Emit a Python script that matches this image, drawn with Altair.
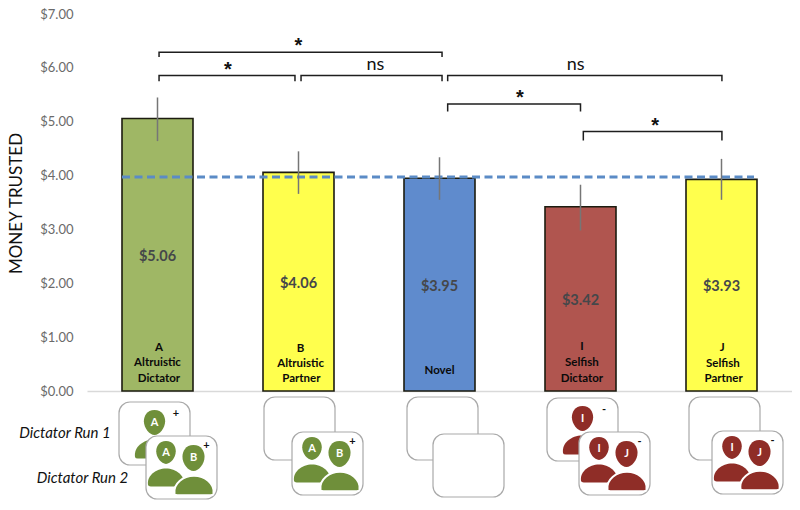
import altair as alt
import pandas as pd

# ---- values
positions = [1, 2, 3, 4, 5]
means = [5.06, 4.06, 3.95, 3.42, 3.93]
err_low = [4.64, 3.66, 3.55, 2.98, 3.55]
err_high = [5.45, 4.45, 4.34, 3.83, 4.31]
bar_colors = ["#9fb765", "#ffff4d", "#5f8bcd", "#b0554f", "#ffff4d"]
value_label_y = [2.485, 1.985, 1.935, 1.665, 1.935]
value_labels = ["$5.06", "$4.06", "$3.95", "$3.42", "$3.93"]
ref_level = 3.975

cat_lines = ["A", "Altruistic", "Dictator", "B", "Altruistic", "Partner", "Novel",
             "I", "Selfish", "Dictator", "J", "Selfish", "Partner"]
cat_pos = [1.01, 1.0, 1.01, 2.015, 2.015, 2.02, 3.0, 4.01, 4.01, 4.01, 5.005, 5.01, 5.015]
cat_y = [0.80, 0.52, 0.23, 0.78, 0.50, 0.23, 0.38, 0.81, 0.52, 0.23, 0.80, 0.51, 0.23]

# brackets: left, right, level, drop (in axis units) and their marks
br_left = [1.011, 1.011, 2.018, 3.058, 3.058, 4.02]
br_right = [3.018, 1.975, 3.018, 5.003, 4.0, 5.003]
br_level = [6.29, 5.86, 5.86, 5.86, 5.33, 4.82]
br_drop = [0.09, 0.11, 0.11, 0.11, 0.14, 0.17]
star_x = [2.0, 1.5, 3.57, 4.53]
star_y = [6.47, 6.02, 5.49, 4.97]
ns_x = [2.545, 3.965]
ns_y = [6.06, 6.06]

cards_run1 = [(119, 402), (264, 397), (407, 397), (547, 398), (689, 397)]
cards_run2 = [(146, 436), (292, 432), (433, 434), (579, 432), (712, 431)]
single_icons = {0: ("A", "+", "#6f8f3a"), 3: ("I", "-", "#8f2d27")}
double_icons = {0: ("A", "B", "+", "#6f8f3a"), 1: ("A", "B", "+", "#6f8f3a"),
                3: ("I", "J", "-", "#8f2d27"), 4: ("I", "J", "-", "#8f2d27")}

FONT = "Lato"
PX_LEFT, PX_BASE, BAND, UNIT = 87, 391, 141, 377 / 7


def ux(px):
    return 0.5 + (px - PX_LEFT) / BAND


def uy(py):
    return (PX_BASE - py) / UNIT


x_scale = alt.Scale(domain=[0.5, 5.5], nice=False, zero=False, padding=0)
y_scale = alt.Scale(domain=[0, 7], nice=False, padding=0)
x_axis = alt.Axis(title=None, labels=False, ticks=False, grid=False,
                  domain=True, domainColor="#d9d9d9", domainWidth=1.5)
y_axis = alt.Axis(title="MONEY TRUSTED", format="$.2f", values=[0, 1, 2, 3, 4, 5, 6, 7],
                  grid=False, domain=False, ticks=False,
                  labelFont=FONT, labelFontSize=13, labelColor="#6a6a6a", labelPadding=14,
                  titleFont=FONT, titleFontSize=17, titleFontWeight="normal", titleColor="#111111",
                  titleX=-62, titleY=189)
X = lambda f="x": alt.X(f"{f}:Q", scale=x_scale, axis=x_axis)
Y = lambda f="y": alt.Y(f"{f}:Q", scale=y_scale, axis=y_axis)

bars_df = pd.DataFrame({"x": positions, "mean": means, "low": err_low, "high": err_high,
                        "color": bar_colors, "vy": value_label_y, "vl": value_labels})

bars = alt.Chart(bars_df).mark_bar(size=71, stroke="#1c1c10", strokeWidth=1.6).encode(
    x=X(), y=Y("mean"), color=alt.Color("color:N", scale=None))

ref = alt.Chart(pd.DataFrame({"x": [ux(122)], "x2": [ux(754)], "y": [ref_level]})).mark_rule(
    color="#5b8bc6", strokeWidth=3, strokeDash=[8, 4.5]
).encode(x=X(), x2="x2:Q", y=Y())

errs = alt.Chart(bars_df).mark_rule(color="#767676", strokeWidth=1.5).encode(
    x=X(), y=Y("low"), y2="high:Q")

value_text = alt.Chart(bars_df).mark_text(font=FONT, fontSize=14.5, fontWeight="bold", color="#45474a").encode(
    x=X(), y=Y("vy"), text="vl:N")

cat_df = pd.DataFrame({"x": cat_pos, "y": cat_y, "t": cat_lines})
cat_text = alt.Chart(cat_df).mark_text(font=FONT, fontSize=11.5, fontWeight="bold", color="#0a0a0a").encode(
    x=X(), y=Y(), text="t:N")

br_rows = []
for i, (l, r, lv, d) in enumerate(zip(br_left, br_right, br_level, br_drop)):
    for k, (bx, by) in enumerate([(l, lv - d), (l, lv), (r, lv), (r, lv - d)]):
        br_rows.append({"x": bx, "y": by, "g": i, "k": k})
brackets = alt.Chart(pd.DataFrame(br_rows)).mark_line(color="#1e1e1e", strokeWidth=1.5).encode(
    x=X(), y=Y(), detail="g:N", order="k:Q")

stars = alt.Chart(pd.DataFrame({"x": star_x, "y": star_y, "t": ["*"] * len(star_x)})).mark_text(
    font="Liberation Sans", fontSize=20, fontWeight="bold", dy=3, color="#111111").encode(x=X(), y=Y(), text="t:N")
ns = alt.Chart(pd.DataFrame({"x": ns_x, "y": ns_y, "t": ["ns"] * len(ns_x)})).mark_text(
    font=FONT, fontSize=18, color="#111111").encode(x=X(), y=Y(), text="t:N")

run_df = pd.DataFrame({"x": [ux(65), ux(82.5)], "y": [uy(433), uy(478)],
                       "t": ["Dictator Run 1", "Dictator Run 2"]})
run_text = alt.Chart(run_df).mark_text(font=FONT, fontSize=15, fontStyle="italic", color="#111111").encode(
    x=X(), y=Y(), text="t:N")

HEAD = ("M0,-1 C0.62,-1 0.85,-0.5 0.85,-0.1 C0.85,0.45 0.4,1 0,1 "
        "C-0.4,1 -0.85,0.45 -0.85,-0.1 C-0.85,-0.5 -0.62,-1 0,-1 Z")
BODY = ("M-1,0.42 C-1.08,-0.1 -0.55,-0.5 0,-0.5 C0.55,-0.5 1.08,-0.1 1,0.42 "
        "Q0.98,0.5 0.85,0.5 L-0.85,0.5 Q-0.98,0.5 -1,0.42 Z")


def card_layer(cards):
    df = pd.DataFrame([{"x": ux(l), "x2": ux(l + 71), "y": uy(t), "y2": uy(t + 63)} for l, t in cards])
    return alt.Chart(df).mark_rect(fill="white", stroke="#a9a9a9", strokeWidth=1.2, cornerRadius=11).encode(
        x=X(), x2="x2:Q", y=Y(), y2="y2:Q")


def shape_layer(rows, path, **kw):
    df = pd.DataFrame(rows)
    return alt.Chart(df).mark_point(shape=path, filled=True, opacity=1, **kw).encode(
        x=X(), y=Y(), size=alt.Size("s:Q", scale=None, legend=None),
        color=alt.Color("c:N", scale=None))


def text_layer(rows, **kw):
    df = pd.DataFrame(rows)
    return alt.Chart(df).mark_text(font=FONT, fontWeight="bold", **kw).encode(
        x=X(), y=Y(), text="t:N")


r1_body, r1_head, r1_letters, r1_signs = [], [], [], []
for i, (name, sign, col) in single_icons.items():
    l, t = cards_run1[i]
    r1_body.append({"x": ux(l + 35), "y": uy(t + 47), "s": 38 ** 2, "c": col})
    r1_head.append({"x": ux(l + 35.5), "y": uy(t + 20.5), "s": 25 ** 2, "c": col})
    r1_letters.append({"x": ux(l + 35.5), "y": uy(t + 20.5), "t": name})
    r1_signs.append({"x": ux(l + 57), "y": uy(t + 12), "t": sign})

r2_bodyA, r2_bodyB, r2_head, r2_letters, r2_signs = [], [], [], [], []
for i, (a, b, sign, col) in double_icons.items():
    l, t = cards_run2[i]
    r2_bodyA.append({"x": ux(l + 20), "y": uy(t + 41.5), "s": 36 ** 2, "c": col})
    r2_bodyB.append({"x": ux(l + 48), "y": uy(t + 49.5), "s": 39 ** 2, "c": col})
    r2_head.append({"x": ux(l + 20), "y": uy(t + 16.5), "s": 23 ** 2, "c": col})
    r2_head.append({"x": ux(l + 47.5), "y": uy(t + 22), "s": 26 ** 2, "c": col})
    r2_letters.append({"x": ux(l + 20), "y": uy(t + 16.5), "t": a})
    r2_letters.append({"x": ux(l + 47.5), "y": uy(t + 22), "t": b})
    r2_signs.append({"x": ux(l + 60.5), "y": uy(t + 10), "t": sign})

chart = alt.layer(
    bars, ref, errs, value_text, cat_text, brackets, stars, ns, run_text,
    card_layer(cards_run1),
    shape_layer(r1_body, BODY, strokeWidth=0),
    shape_layer(r1_head, HEAD, strokeWidth=0),
    text_layer(r1_letters, fontSize=11, color="white"),
    text_layer(r1_signs, fontSize=11, color="#111111"),
    card_layer(cards_run2),
    shape_layer(r2_bodyA, BODY, strokeWidth=0),
    shape_layer(r2_bodyB, BODY, strokeWidth=2, stroke="white"),
    shape_layer(r2_head, HEAD, strokeWidth=0),
    text_layer(r2_letters, fontSize=11, color="white"),
    text_layer(r2_signs, fontSize=11, color="#111111"),
).properties(
    width=705, height=377,
    autosize=alt.AutoSizeParams(type="none"),
    padding={"left": 79, "top": 6, "right": 0, "bottom": 111},
).configure_view(stroke=None)

chart.save("out.html", embed_options={"renderer": "svg", "actions": False})
